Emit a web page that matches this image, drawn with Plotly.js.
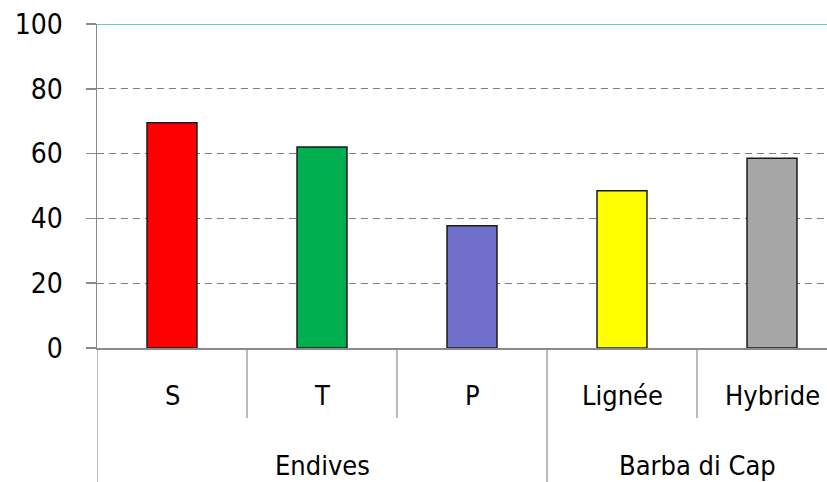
<!DOCTYPE html>
<html>
<head>
<meta charset="utf-8">
<script src="https://cdn.plot.ly/plotly-3.0.1.min.js"></script>
<style>html,body{margin:0;padding:0;background:#fff;}#chart{width:827px;height:482px;}</style>
</head>
<body>
<div id="chart"></div>
<script>
// Data
const categories = ['S', 'T', 'P', 'Lignée', 'Hybride'];
const groups = ['Endives', 'Endives', 'Endives', 'Barba di Cap', 'Barba di Cap'];
const values = [69.5, 62, 37.7, 48.5, 58.6];
const barColors = ['#ff0000', '#00b050', '#7070cc', '#ffff00', '#a6a6a6'];
const yTicks = [0, 20, 40, 60, 80, 100];

const FONT = '"DejaVu Sans Condensed", "DejaVu Sans", Tahoma, sans-serif';
const GRAY = '#8a8a8a';

// pixel-to-paper helper for the area below the plot (plot: top 24, bottom 348)
const plotTop = 24, plotBottom = 348, plotH = plotBottom - plotTop;
const py = p => (plotBottom - p) / plotH;

const trace = {
  type: 'bar',
  x: categories,
  y: values,
  width: 0.333,
  marker: {color: barColors, line: {color: '#1a1a1a', width: 1.5}},
  hoverinfo: 'x+y'
};

const groupNames = [];
groups.forEach(g => { if (!groupNames.includes(g)) groupNames.push(g); });
const annotations = [];
categories.forEach(c => annotations.push({
  x: c, xref: 'x', y: py(395), yref: 'paper', text: c, showarrow: false,
  xanchor: 'center', yanchor: 'middle', font: {family: FONT, size: 27, color: '#000'}
}));
groupNames.forEach(g => {
  const idx = groups.map((v, i) => v === g ? i : -1).filter(i => i >= 0);
  const mid = (idx[0] + idx[idx.length - 1]) / 2;
  annotations.push({
    x: mid, xref: 'x', y: py(465), yref: 'paper', text: g, showarrow: false,
    xanchor: 'center', yanchor: 'middle', font: {family: FONT, size: 27, color: '#000'}
  });
});

// Dividers
const shapes = [];
for (let i = 0; i <= categories.length; i++) {
  const pos = i - 0.5;
  const isGroupBoundary = i === 0 || i === categories.length || groups[i] !== groups[i - 1];
  shapes.push({
    type: 'line', xref: 'x', yref: 'paper', x0: pos, x1: pos, y0: 0,
    y1: isGroupBoundary ? py(490) : py(418),
    line: {color: GRAY, width: 1.2}
  });
}
// Top line at 100
shapes.push({type: 'line', xref: 'paper', yref: 'y', x0: 0, x1: 1, y0: 100, y1: 100,
  line: {color: '#5fd0c6', width: 2.2}});

const layout = {
  width: 827, height: 482,
  margin: {l: 97, r: 0, t: plotTop, b: 482 - plotBottom},
  paper_bgcolor: '#fff', plot_bgcolor: '#fff',
  showlegend: false,
  bargap: 0,
  xaxis: {
    type: 'category', range: [-0.5, 4.3667], showticklabels: false, ticks: '',
    showgrid: false, showline: true, linecolor: GRAY, linewidth: 1.5, zeroline: false,
    fixedrange: true
  },
  yaxis: {
    range: [0, 100], tickvals: yTicks, ticktext: yTicks.map(String),
    ticks: 'outside', ticklen: 10, tickcolor: GRAY, tickwidth: 1.5,
    ticklabelstandoff: 17,
    showline: true, linecolor: GRAY, linewidth: 1.5,
    showgrid: true, gridcolor: '#808080', gridwidth: 1.2, griddash: '7px,5px',
    zeroline: false,
    tickfont: {family: FONT, size: 28, color: '#000'},
    fixedrange: true
  },
  annotations: annotations,
  shapes: shapes
};

Plotly.newPlot('chart', [trace], layout, {displayModeBar: false, staticPlot: true});
</script>
</body>
</html>
